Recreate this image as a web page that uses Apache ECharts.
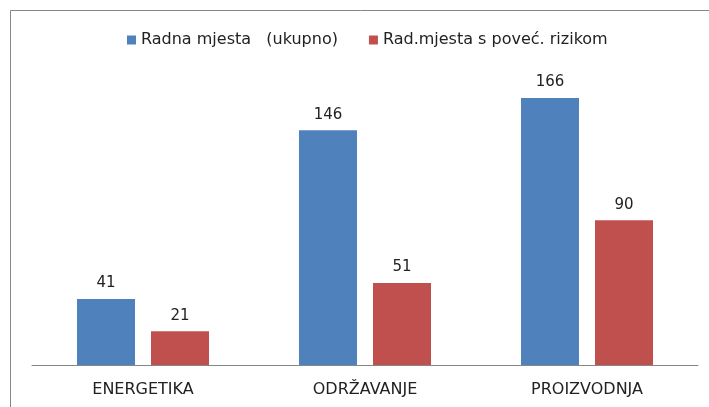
<!DOCTYPE html>
<html>
<head>
<meta charset="utf-8">
<script src="https://cdn.jsdelivr.net/npm/echarts@6/dist/echarts.min.js"></script>
<style>
  html, body { margin: 0; padding: 0; background: #fff; }
  #main { width: 709px; height: 407px; }
</style>
</head>
<body>
<div id="main"></div>
<script>
var categories = ['ENERGETIKA', 'ODRŽAVANJE', 'PROIZVODNJA'];
var seriesNames = ['Radna mjesta   (ukupno)', 'Rad.mjesta s poveć. rizikom'];
var totalPlaces = [41, 146, 166];
var riskPlaces = [21, 51, 90];

var fontFamily = 'DejaVu Sans';
var myChart = echarts.init(document.getElementById('main'));

var labelStyle = { show: true, position: 'top', distance: 8, fontFamily: fontFamily, fontSize: 15, color: '#222' };

var option = {
  animation: false,
  backgroundColor: '#fff',
  color: ['#4F81BD', '#C0504D'],
  graphic: [{
    type: 'rect',
    shape: { x: 10.5, y: 10.5, width: 720, height: 420 },
    style: { fill: 'none', stroke: '#868686', lineWidth: 1 },
    silent: true
  }],
  legend: {
    top: 27,
    left: 122,
    icon: 'rect',
    itemWidth: 9,
    itemHeight: 9,
    itemGap: 31,
    textStyle: { fontFamily: fontFamily, fontSize: 16, color: '#222' },
    data: seriesNames
  },
  grid: { left: 32, right: 11, top: 75.5, bottom: 42 },
  xAxis: {
    type: 'category',
    data: categories,
    axisLine: { lineStyle: { color: '#868686', width: 1 } },
    axisTick: { show: false },
    axisLabel: { margin: 17, fontFamily: fontFamily, fontSize: 16, color: '#222' }
  },
  yAxis: {
    type: 'value',
    min: 0,
    max: 180,
    show: false,
    splitLine: { show: false }
  },
  series: [{
    name: seriesNames[0],
    type: 'bar',
    data: totalPlaces,
    barWidth: 58,
    barGap: '27.6%',
    label: labelStyle
  }, {
    name: seriesNames[1],
    type: 'bar',
    data: riskPlaces,
    barWidth: 58,
    barGap: '27.6%',
    label: labelStyle
  }]
};
myChart.setOption(option);
</script>
</body>
</html>
